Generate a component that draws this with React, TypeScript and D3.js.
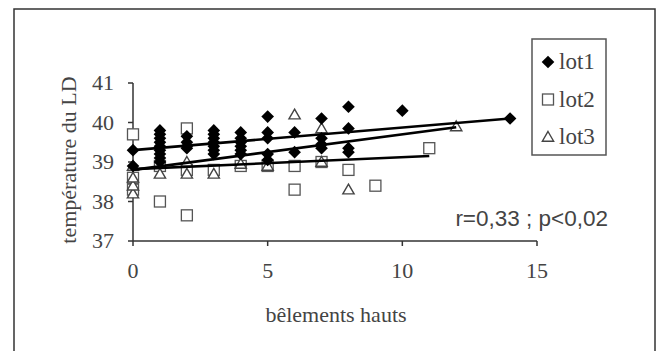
import * as d3 from "d3"

// bêlements hauts (x) vs température du LD (y)
const lot1X = [0, 0, 1, 1, 1, 1, 1, 1, 1, 1, 1, 2, 2, 2, 2, 3, 3, 3, 3, 3, 3, 3, 4, 4, 4, 4, 4, 4, 5, 5, 5, 5, 5, 6, 6, 7, 7, 7, 7, 8, 8, 8, 8, 10, 14]
const lot1Y = [39.3, 38.9, 39.8, 39.7, 39.6, 39.5, 39.4, 39.3, 39.2, 39.1, 39.0, 39.65, 39.5, 39.4, 39.35, 39.8, 39.7, 39.6, 39.5, 39.4, 39.3, 39.2, 39.75, 39.6, 39.5, 39.4, 39.3, 39.2, 40.15, 39.75, 39.6, 39.2, 39.05, 39.75, 39.25, 40.1, 39.6, 39.45, 39.35, 40.4, 39.85, 39.35, 39.25, 40.3, 40.1]

const lot2X = [0, 0, 0, 1, 1, 2, 2, 2, 3, 4, 5, 6, 6, 7, 8, 9, 11]
const lot2Y = [39.7, 38.6, 38.3, 38.0, 38.9, 39.85, 37.65, 38.8, 38.8, 38.9, 38.9, 38.9, 38.3, 39.0, 38.8, 38.4, 39.35]

const lot3X = [0, 0, 0, 0, 1, 2, 2, 3, 4, 5, 6, 7, 7, 8, 12]
const lot3Y = [38.2, 38.4, 38.6, 38.9, 38.7, 38.7, 39.0, 38.7, 38.95, 38.9, 40.2, 39.0, 39.85, 38.3, 39.9]

// trend lines: [x start, y start, x end, y end]
const trend1 = [0, 39.3, 14, 40.1]
const trend2 = [0, 38.82, 11, 39.15]
const trend3 = [0, 38.8, 12, 39.88]

const xTicks = [0, 5, 10, 15]
const yTicks = [37, 38, 39, 40, 41]
const legendLabels = ["lot1", "lot2", "lot3"]

const W = 659
const H = 351
const serif = "'Liberation Serif', 'DejaVu Serif', serif"
const textColor = "#444"

export default function App() {
  const x = d3.scaleLinear().domain([0, 15]).range([133, 537])
  const y = d3.scaleLinear().domain([37, 41]).range([241, 83])

  // diamond = square turned 45deg
  const diamond = d3.symbol().type(d3.symbolSquare).size(80)
  const tri = d3.symbol().type(d3.symbolTriangle).size(55)
  const line = d3.line<number[]>().x(d => x(d[0])).y(d => y(d[1]))

  const trends = [trend1, trend2, trend3]

  return (
    <svg width={W} height={H} style={{ position: "absolute", left: 0, top: 0, background: "#fff" }}>
      <rect x={14} y={9} width={641} height={400} fill="#fff" stroke="#333" strokeWidth={1.5} />

      {/* axes */}
      <line x1={x(0)} x2={x(15)} y1={y(37)} y2={y(37)} stroke="#333" strokeWidth={1.5} />
      <line x1={x(0)} x2={x(0)} y1={y(37)} y2={y(41)} stroke="#333" strokeWidth={1.5} />
      {xTicks.map(t => (
        <g key={t}>
          <line x1={x(t)} x2={x(t)} y1={y(37)} y2={y(37) + 5} stroke="#333" strokeWidth={1.5} />
          <text x={x(t)} y={y(37) + 37} textAnchor="middle" fontFamily={serif} fontSize={22} fill={textColor}>{t}</text>
        </g>
      ))}
      {yTicks.map(t => (
        <g key={t}>
          <line x1={x(0) - 5} x2={x(0)} y1={y(t)} y2={y(t)} stroke="#333" strokeWidth={1.5} />
          <text x={114} y={y(t) + 7} textAnchor="end" fontFamily={serif} fontSize={22} fill={textColor}>{t}</text>
        </g>
      ))}

      <text x={336} y={322} textAnchor="middle" fontFamily={serif} fontSize={22} fill={textColor}>bêlements hauts</text>
      <text transform="translate(76,160) rotate(-90)" textAnchor="middle" fontFamily={serif} fontSize={22} fill={textColor}>température du LD</text>

      {/* points */}
      {lot2X.map((v, i) => (
        <rect key={"b" + i} x={x(v) - 5.5} y={y(lot2Y[i]) - 5.5} width={11} height={11} fill="#fff" stroke="#555" strokeWidth={1.3} />
      ))}
      {lot3X.map((v, i) => (
        <path key={"c" + i} d={tri()!} transform={`translate(${x(v)},${y(lot3Y[i]) + 1})`} fill="#fff" stroke="#444" strokeWidth={1.4} />
      ))}
      {lot1X.map((v, i) => (
        <path key={"a" + i} d={diamond()!} transform={`translate(${x(v)},${y(lot1Y[i])}) rotate(45)`} fill="#000" />
      ))}

      {/* trend lines */}
      {trends.map((t, i) => (
        <path key={"t" + i} d={line([[t[0], t[1]], [t[2], t[3]]])!} stroke="#000" strokeWidth={2.6} fill="none" />
      ))}

      <text x={608} y={226} textAnchor="end" fontFamily="'Liberation Sans', Arial, sans-serif" fontSize={22.5} fill={textColor}>r=0,33 ; p&lt;0,02</text>

      {/* legend */}
      <rect x={532} y={39} width={74} height={116} fill="#fff" stroke="#555" strokeWidth={1.5} />
      {legendLabels.map((l, i) => {
        const cy = 62 + i * 37.5
        return (
          <g key={l}>
            {i === 0 && <path d={diamond()!} transform={`translate(548,${cy}) rotate(45)`} fill="#000" />}
            {i === 1 && <rect x={542.5} y={cy - 5.5} width={11} height={11} fill="#fff" stroke="#555" strokeWidth={1.3} />}
            {i === 2 && <path d={tri()!} transform={`translate(548,${cy + 1})`} fill="#fff" stroke="#444" strokeWidth={1.4} />}
            <text x={559} y={cy + 7} fontFamily={serif} fontSize={23} fill={textColor}>{l}</text>
          </g>
        )
      })}
    </svg>
  )
}
